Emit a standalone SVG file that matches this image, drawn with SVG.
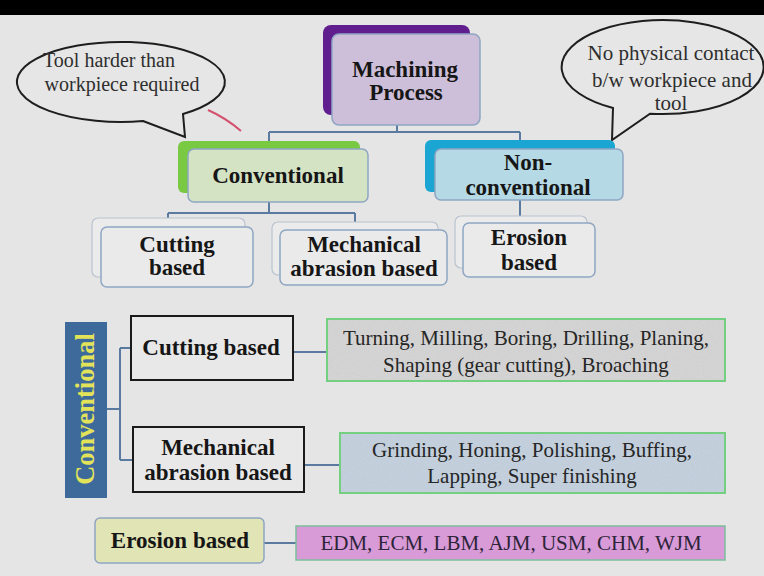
<svg xmlns="http://www.w3.org/2000/svg" width="764" height="576" viewBox="0 0 764 576">
  <defs>
    <style>
      .bg { fill: #e5e5e5; }
      .lbl { font-family: "Liberation Serif", "Times New Roman", serif; font-weight: bold; font-size: 23px; fill: #161616; text-anchor: middle; }
      .note { font-family: "Liberation Serif", "Times New Roman", serif; font-size: 20px; fill: #2e2e2e; text-anchor: middle; }
      .list { font-family: "Liberation Serif", "Times New Roman", serif; font-size: 21px; fill: #262626; text-anchor: middle; }
      .front { stroke: #8ea6c2; stroke-width: 1.5; }
      .sub-back { fill: #ebebeb; stroke: #b9c3cf; stroke-width: 1.2; }
      .sub-front { fill: #eaeaea; stroke: #8ea6c2; stroke-width: 1.5; }
      .bubble { fill: #e6e6e6; stroke: #1e1e1e; stroke-width: 2; }
      .wire { fill: none; stroke: #5a7aa0; stroke-width: 2; }
      .sq { stroke: #1a1a1a; stroke-width: 2; fill: #e8e8e8; }
      .listbox { fill: none; stroke: #74cf80; stroke-width: 2; }
    </style>
    <!-- speckled paper texture for the list boxes -->
    <filter id="grain" x="0" y="0" width="100%" height="100%">
      <feTurbulence type="fractalNoise" baseFrequency="0.9" numOctaves="2" seed="3" result="n"/>
      <feColorMatrix in="n" type="matrix" values="0 0 0 0 0.45  0 0 0 0 0.45  0 0 0 0 0.45  0 0 0 0.35 -0.08" result="speck"/>
      <feComposite in="speck" in2="SourceGraphic" operator="in" result="clip"/>
      <feMerge><feMergeNode in="SourceGraphic"/><feMergeNode in="clip"/></feMerge>
    </filter>
  </defs>

  <!-- page -->
  <rect class="bg" x="0" y="0" width="764" height="576"/>
  <rect x="0" y="0" width="764" height="15" fill="#000"/>

  <!-- callouts -->
  <g id="note-tool-harder">
    <path class="bubble" d="M143,121 L185,137 L183,114 A104,40 0 1 0 143,121 Z"/>
    <text class="note" x="109" y="67">Tool harder than</text>
    <text class="note" x="122" y="91">workpiece required</text>
  </g>
  <g id="note-no-contact">
    <path class="bubble" d="M613,108 L612,140 L650,113.7 A101,47 0 1 0 613,108 Z"/>
    <text class="note" x="671" y="60" style="font-size:21px">No physical contact</text>
    <text class="note" x="672" y="87" style="font-size:21px">b/w workpiece and</text>
    <text class="note" x="671" y="110" style="font-size:21px">tool</text>
  </g>
  <path d="M208,110 Q226,118 241,131" fill="none" stroke="#d4506e" stroke-width="2"/>

  <!-- connectors -->
  <g id="connectors">
    <path class="wire" d="M397,125 V132 M269,132 H520 M269,132 V141 M520,132 V140"/>
    <path class="wire" d="M269,202 V213 M168,213 H355 M168,213 V218 M355,213 V222"/>
    <path class="wire" d="M520,200 V216"/>
    <path class="wire" d="M107,409 H120 M120,348 V460 M120,348 H131 M120,460 H133"/>
    <path class="wire" d="M293,352 H327 M304,465 H340 M264,543 H296"/>
  </g>

  <!-- hierarchy -->
  <g id="machining-process">
    <rect x="323" y="25" width="147" height="90" rx="8" fill="#5f1d8e"/>
    <rect class="front" x="332" y="34" width="148" height="91" rx="7" fill="#cdbfd9"/>
    <text class="lbl" x="405" y="77">Machining</text>
    <text class="lbl" x="406" y="100">Process</text>
  </g>

  <g id="conventional">
    <rect x="178" y="141" width="182" height="52" rx="6" fill="#79c943"/>
    <rect class="front" x="188" y="149" width="180" height="53" rx="6" fill="#d5e3c5"/>
    <text class="lbl" x="278" y="183">Conventional</text>
  </g>

  <g id="non-conventional">
    <rect x="425" y="140" width="190" height="52" rx="6" fill="#1aa5d2"/>
    <rect class="front" x="435" y="149" width="188" height="51" rx="6" fill="#b5d9e5"/>
    <text class="lbl" x="528" y="170">Non-</text>
    <text class="lbl" x="528" y="195">conventional</text>
  </g>

  <g id="cutting-based">
    <rect class="sub-back" x="92" y="218" width="153" height="59" rx="6"/>
    <rect class="sub-front" x="101" y="227" width="152" height="60" rx="6"/>
    <text class="lbl" x="177" y="252">Cutting</text>
    <text class="lbl" x="177" y="275">based</text>
  </g>

  <g id="mechanical-abrasion-based">
    <rect class="sub-back" x="272" y="222" width="166" height="53" rx="6"/>
    <rect class="sub-front" x="280" y="230" width="167" height="55" rx="6"/>
    <text class="lbl" x="364" y="252">Mechanical</text>
    <text class="lbl" x="364" y="276">abrasion based</text>
  </g>

  <g id="erosion-based">
    <rect class="sub-back" x="455" y="216" width="132" height="52" rx="6"/>
    <rect class="sub-front" x="463" y="223" width="132" height="54" rx="6"/>
    <text class="lbl" x="529" y="245">Erosion</text>
    <text class="lbl" x="529" y="270">based</text>
  </g>

  <!-- summary table -->
  <g id="conventional-bar">
    <rect x="65" y="322" width="42" height="176" fill="#3e6a9b"/>
    <text class="lbl" transform="translate(94,409) rotate(-90)" style="font-size:26.5px;fill:#e3e35a">Conventional</text>
  </g>

  <g id="row-cutting">
    <rect class="sq" x="131" y="316" width="162" height="64"/>
    <text class="lbl" x="211" y="355">Cutting based</text>
  </g>

  <g id="row-mechanical">
    <rect class="sq" x="133" y="427" width="171" height="65"/>
    <text class="lbl" x="218" y="455">Mechanical</text>
    <text class="lbl" x="218" y="480">abrasion based</text>
  </g>

  <g id="list-cutting">
    <rect x="327" y="319" width="398" height="62" fill="#d6d6d6" filter="url(#grain)"/>
    <rect class="listbox" x="327" y="319" width="398" height="62"/>
    <text class="list" x="526" y="345">Turning, Milling, Boring, Drilling, Planing,</text>
    <text class="list" x="526" y="372">Shaping (gear cutting), Broaching</text>
  </g>

  <g id="list-abrasion">
    <rect x="340" y="433" width="385" height="60" fill="#c4d1df" filter="url(#grain)"/>
    <rect class="listbox" x="340" y="433" width="385" height="60"/>
    <text class="list" x="532" y="457">Grinding, Honing, Polishing, Buffing,</text>
    <text class="list" x="532" y="483">Lapping, Super finishing</text>
  </g>

  <g id="row-erosion">
    <rect x="95" y="518" width="169" height="45" rx="5" fill="#e1e4b4" stroke="#8ea6c2" stroke-width="1.5"/>
    <text class="lbl" x="180" y="548">Erosion based</text>
  </g>

  <g id="list-erosion">
    <rect x="296" y="526" width="429" height="34" fill="#d89bd8" stroke="#7bbf9a" stroke-width="1.5"/>
    <text class="list" x="511" y="550" style="fill:#2e2438">EDM, ECM, LBM, AJM, USM, CHM, WJM</text>
  </g>
</svg>
